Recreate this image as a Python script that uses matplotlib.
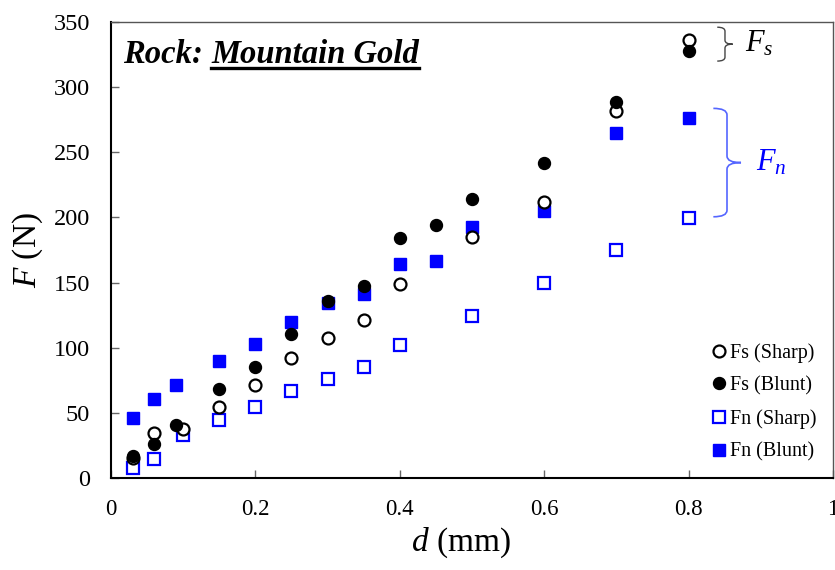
import matplotlib
matplotlib.use('Agg')
import matplotlib.pyplot as plt
from matplotlib.path import Path
from matplotlib.patches import PathPatch
from matplotlib.lines import Line2D

plt.rcParams['font.family'] = 'Liberation Serif'
plt.rcParams['mathtext.fontset'] = 'custom'
plt.rcParams['mathtext.rm'] = 'Liberation Serif'
plt.rcParams['mathtext.it'] = 'Liberation Serif:italic'

# data (d in mm, F in N)
d_sharp = [0.03, 0.06, 0.1, 0.15, 0.2, 0.25, 0.3, 0.35, 0.4, 0.5, 0.6, 0.7, 0.8]
d_blunt = [0.03, 0.06, 0.09, 0.15, 0.2, 0.25, 0.3, 0.35, 0.4, 0.45, 0.5, 0.6, 0.7, 0.8]
fs_sharp = [15, 34.5, 37.6, 54.5, 71.4, 92.1, 107.7, 121.3, 148.9, 184.7, 212, 281.7, None]
fs_blunt = [16.9, 25.8, 40.7, 68, 85.4, 110.5, 136, 147.3, 184, 194, 213.9, 241.5, 288.5, None]
fn_sharp = [7.4, 14.8, 33, 44.3, 54.5, 67, 76.2, 85.4, 101.8, 124.3, 149.9, 174.8, 199.8]
fn_blunt = [46.3, 60.4, 71.1, 89.8, 102.6, 119.5, 134.6, 141, 164.2, 166.5, 192.9, 204.9, 264.6, 276.4]

labels = ['Fs (Sharp)', 'Fs (Blunt)', 'Fn (Sharp)', 'Fn (Blunt)']
x_ticks = [0, 0.2, 0.4, 0.6, 0.8, 1]
x_ticklabels = ['0', '0.2', '0.4', '0.6', '0.8', '1']
y_ticks = list(range(0, 351, 50))

blue = '#0000ff'
ms = 8.6

fig = plt.figure(figsize=(8.35, 5.7), dpi=100)
ax = fig.add_axes([0.1329, 0.1614, 0.8647, 0.8])


def pairs(xs, ys):
    xx = [x for x, y in zip(xs, ys) if y is not None]
    yy = [y for y in ys if y is not None]
    return xx, yy


ax.plot(*pairs(d_sharp, fn_sharp), 's', ms=ms - 0.5, mfc='white', mec=blue, mew=1.6, label=labels[2])
ax.plot(*pairs(d_blunt, fn_blunt), 's', ms=ms - 0.5, mfc=blue, mec=blue, mew=1.0, label=labels[3])
ax.plot(*pairs(d_sharp, fs_sharp), 'o', ms=ms, mfc='white', mec='black', mew=1.6, label=labels[0])
ax.plot(*pairs(d_blunt, fs_blunt), 'o', ms=ms, mfc='black', mec='black', mew=1.0, label=labels[1])

ax.set_xlim(0, 1)
ax.set_ylim(0, 350)
ax.set_xticks(x_ticks)
ax.set_xticklabels(x_ticklabels)
ax.set_yticks(y_ticks)
ax.tick_params(direction='in', length=6, width=1, colors='#666666', labelcolor='black')
ax.tick_params(axis='y', labelsize=17.5, pad=15)
ax.tick_params(axis='x', labelsize=16.5, pad=15)
for side in ['left', 'bottom']:
    ax.spines[side].set_color('black')
    ax.spines[side].set_linewidth(1.5)
for side in ['top', 'right']:
    ax.spines[side].set_color('#555555')
    ax.spines[side].set_linewidth(1.0)

ax.set_xlabel('$d$ (mm)', fontsize=24, labelpad=2)
ax.xaxis.set_label_coords(0.484, -0.105)
ax.set_ylabel('$F$ (N)', fontsize=24, labelpad=6)

handles, labs = ax.get_legend_handles_labels()
order = [2, 3, 0, 1]
ax.legend([handles[i] for i in order], [labs[i] for i in order], loc='lower right',
          bbox_to_anchor=(1.0, 0.0), frameon=False, fontsize=14.5, handlelength=0.6,
          handletextpad=0.25, labelspacing=0.68, borderpad=0.3)

# title text with underline on the rock name
t1 = ax.text(0.017, 0.91, 'Rock: ', transform=ax.transAxes, fontsize=23.5,
             fontweight='bold', fontstyle='italic', va='baseline')
fig.canvas.draw()
bb = t1.get_window_extent()
x_next = ax.transAxes.inverted().transform((bb.x1, bb.y0))[0]
t2 = ax.text(x_next, 0.91, 'Mountain Gold', transform=ax.transAxes, fontsize=23.5,
             fontweight='bold', fontstyle='italic', va='baseline')
fig.canvas.draw()
bb2 = t2.get_window_extent()
base = ax.transAxes.transform((0, 0.91))[1]
uy = base - 5
fig.add_artist(Line2D([bb2.x0 / fig.bbox.width, bb2.x1 / fig.bbox.width],
                      [uy / fig.bbox.height, uy / fig.bbox.height], color='black', lw=2.4))

# annotation markers for Fs
ax.plot([0.8], [336], 'o', ms=ms, mfc='white', mec='black', mew=1.6, clip_on=False)
ax.plot([0.8], [328], 'o', ms=ms, mfc='black', mec='black', clip_on=False)


def brace(x0, xm, xt, y0, y1, r, color, lw):
    ym = (y0 + y1) / 2
    verts = [(x0, y1), (xm, y1), (xm, y1 - r),
             (xm, ym + r), (xm, ym), (xt, ym),
             (xm, ym), (xm, ym - r),
             (xm, y0 + r), (xm, y0), (x0, y0)]
    codes = [Path.MOVETO, Path.CURVE3, Path.CURVE3,
             Path.LINETO, Path.CURVE3, Path.CURVE3,
             Path.CURVE3, Path.CURVE3,
             Path.LINETO, Path.CURVE3, Path.CURVE3]
    ax.add_patch(PathPatch(Path(verts, codes), fill=False, edgecolor=color, lw=lw, clip_on=False))


brace(0.8397, 0.8504, 0.8611, 320, 346, 3, '#444444', 1.0)
brace(0.8343, 0.8532, 0.8726, 200.5, 283.7, 5, '#5566ff', 1.2)
ax.text(0.878, 333, '$F_s$', fontsize=22, va='center', ha='left')
ax.text(0.893, 242, '$F_n$', fontsize=22, va='center', ha='left', color=blue)

fig.savefig('out.png', dpi=100)
